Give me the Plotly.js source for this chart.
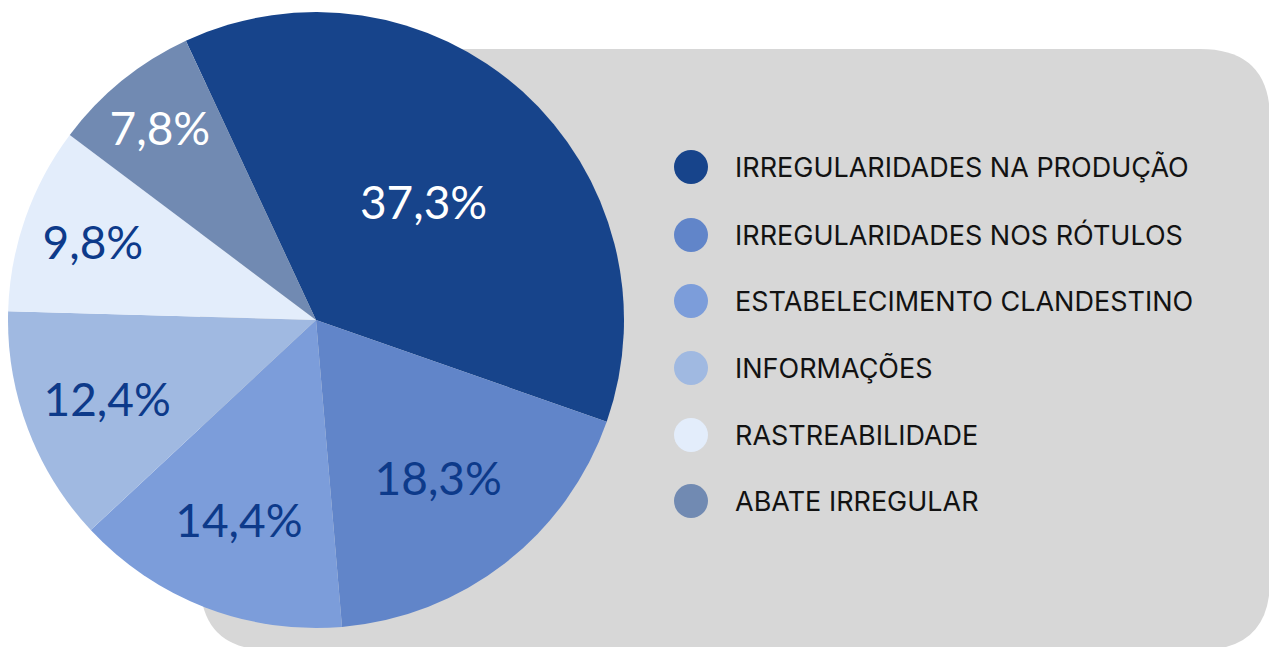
<!DOCTYPE html>
<html>
<head>
<meta charset="utf-8">
<script src="https://cdn.plot.ly/plotly-3.0.1.min.js"></script>
<style>
  html, body { margin: 0; padding: 0; background: #ffffff; }
  #chart { width: 1269px; height: 647px; }
</style>
</head>
<body>
<div id="chart"></div>
<script>
// ---- data ----
const categories = [
  "IRREGULARIDADES NA PRODUÇÃO",
  "IRREGULARIDADES NOS RÓTULOS",
  "ESTABELECIMENTO CLANDESTINO",
  "INFORMAÇÕES",
  "RASTREABILIDADE",
  "ABATE IRREGULAR"
];
const values = [37.3, 18.3, 14.4, 12.4, 9.8, 7.8];
const valueLabels = ["37,3%", "18,3%", "14,4%", "12,4%", "9,8%", "7,8%"];

// ---- styles ----
const colors = ["#17448B", "#6185C9", "#7C9DDA", "#A0B9E1", "#E3EDFB", "#718AB2"];
const labelColors = ["#FFFFFF", "#0D3A8A", "#0D3A8A", "#0D3A8A", "#0D3A8A", "#FFFFFF"];

const W = 1269, H = 647;
const cx = 316, cy = 320, R = 308;

const pie = {
  type: "pie",
  labels: categories,
  values: values,
  text: valueLabels,
  textinfo: "text",
  textposition: "inside",
  insidetextorientation: "horizontal",
  sort: false,
  direction: "clockwise",
  rotation: -25,
  hoverinfo: "none",
  showlegend: false,
  marker: { colors: colors, line: { width: 0 } },
  insidetextfont: { family: "Lato, sans-serif", size: 46, color: labelColors },
  domain: { x: [(cx - R) / W, (cx + R) / W], y: [1 - (cy + R) / H, 1 - (cy - R) / H] }
};

// legend layout (positions only)
const legendY = [167, 235, 301, 368, 435, 501];
const legendCircleX = 691, legendTextX = 733, legendR = 17;

function roundedRectPath(x0, y0, x1, y1, r) {
  return `M ${x0 + r},${y0} L ${x1 - r},${y0} Q ${x1},${y0} ${x1},${y0 + r} ` +
         `L ${x1},${y1 - r} Q ${x1},${y1} ${x1 - r},${y1} L ${x0 + r},${y1} ` +
         `Q ${x0},${y1} ${x0},${y1 - r} L ${x0},${y0 + r} Q ${x0},${y0} ${x0 + r},${y0} Z`;
}

const shapes = [{
  type: "path", xref: "x", yref: "y", layer: "below",
  path: roundedRectPath(200, 49, 1270, 650, 70),
  fillcolor: "#D7D7D7", line: { width: 0 }
}];
const annotations = [];
categories.forEach((c, i) => {
  shapes.push({
    type: "circle", xref: "x", yref: "y",
    x0: legendCircleX - legendR, x1: legendCircleX + legendR,
    y0: legendY[i] - legendR, y1: legendY[i] + legendR,
    fillcolor: colors[i], line: { width: 0 }
  });
  annotations.push({
    xref: "x", yref: "y", x: legendTextX, y: legendY[i],
    xanchor: "left", yanchor: "middle", showarrow: false,
    text: c, font: { family: "Inter, sans-serif", size: 27, color: "#121212" }
  });
});

const layout = {
  width: W, height: H,
  margin: { l: 0, r: 0, t: 0, b: 0 },
  paper_bgcolor: "#FFFFFF", plot_bgcolor: "rgba(0,0,0,0)",
  xaxis: { range: [0, W], visible: false, fixedrange: true, domain: [0, 1] },
  yaxis: { range: [H, 0], visible: false, fixedrange: true, domain: [0, 1] },
  shapes: shapes,
  annotations: annotations,
  showlegend: false
};

Plotly.newPlot("chart", [pie], layout, { displayModeBar: false, staticPlot: true });
</script>
</body>
</html>
